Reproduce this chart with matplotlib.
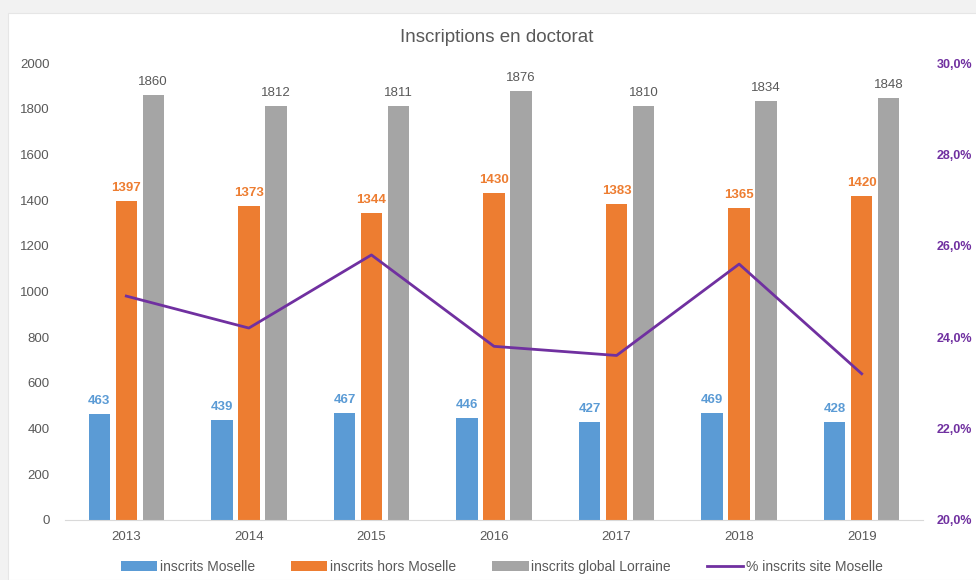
import numpy as np
import matplotlib.pyplot as plt
from matplotlib.patches import Rectangle

plt.rcParams['font.family'] = ['Liberation Sans', 'DejaVu Sans']

annees = ['2013', '2014', '2015', '2016', '2017', '2018', '2019']
moselle = [463, 439, 467, 446, 427, 469, 428]
hors_moselle = [1397, 1373, 1344, 1430, 1383, 1365, 1420]
global_lorraine = [1860, 1812, 1811, 1876, 1810, 1834, 1848]
pct_moselle = [24.9, 24.2, 25.8, 23.8, 23.6, 25.6, 23.2]

c_bleu = '#5b9bd5'
c_orange = '#ed7d31'
c_gris = '#a5a5a5'
c_violet = '#7030a0'
c_txt = '#595959'

fig = plt.figure(figsize=(9.76, 5.8), dpi=100, facecolor='#f2f2f2')
# white chart area with the thin grey margin at top/left
fig.patches.append(Rectangle((8 / 976, 0), 1, 1 - 13 / 580, transform=fig.transFigure,
                             facecolor='white', edgecolor='#e6e6e6', lw=0.8, zorder=-5))

ax = fig.add_axes([65 / 976, 1 - 520 / 580, 858 / 976, 457 / 580])
ax.set_facecolor('none')

x = np.arange(len(annees))
w = 0.175
off = 0.22
b1 = ax.bar(x - off, moselle, w, color=c_bleu, label='inscrits Moselle', zorder=2)
b2 = ax.bar(x, hors_moselle, w, color=c_orange, label='inscrits hors Moselle', zorder=2)
b3 = ax.bar(x + off, global_lorraine, w, color=c_gris, label='inscrits global Lorraine', zorder=2)

ax.bar_label(b1, padding=5, color=c_bleu, fontsize=9.5, fontweight='bold')
ax.bar_label(b2, padding=5, color=c_orange, fontsize=9.5, fontweight='bold')
ax.bar_label(b3, padding=5, color=c_txt, fontsize=9.5)

ax.set_xlim(-0.5, len(annees) - 0.5)
ax.set_ylim(0, 2000)
ax.set_yticks(range(0, 2001, 200))
ax.set_xticks(x)
ax.set_xticklabels(annees)
ax.tick_params(axis='both', length=0, colors=c_txt, labelsize=9.5)
ax.tick_params(axis='y', pad=11)
ax.tick_params(axis='x', pad=8)
for s in ['top', 'right', 'left']:
    ax.spines[s].set_visible(False)
ax.spines['bottom'].set_color('#d9d9d9')

ax2 = ax.twinx()
ln, = ax2.plot(x, pct_moselle, color=c_violet, lw=2, label='% inscrits site Moselle', zorder=3)
ax2.set_ylim(20, 30)
ax2.set_yticks(range(20, 31, 2))
ax2.set_yticklabels(['%d,0%%' % v for v in range(20, 31, 2)])
ax2.tick_params(axis='y', length=0, colors=c_violet, labelsize=9, pad=10)
for lab in ax2.get_yticklabels():
    lab.set_fontweight('bold')
for s in ax2.spines.values():
    s.set_visible(False)

fig.text(497 / 976, 1 - 38 / 580, 'Inscriptions en doctorat', ha='center', va='center',
         fontsize=13.5, color=c_txt)

handles = [b1, b2, b3, ln]
fig.legend(handles, [h.get_label() for h in handles], loc='center',
           bbox_to_anchor=(502 / 976, 1 - 567 / 580), ncol=4, frameon=False,
           fontsize=10, labelcolor=c_txt, handlelength=2.6, handleheight=0.8,
           columnspacing=2.6, handletextpad=0.2)

fig.savefig('out.png', dpi=100, facecolor=fig.get_facecolor())
